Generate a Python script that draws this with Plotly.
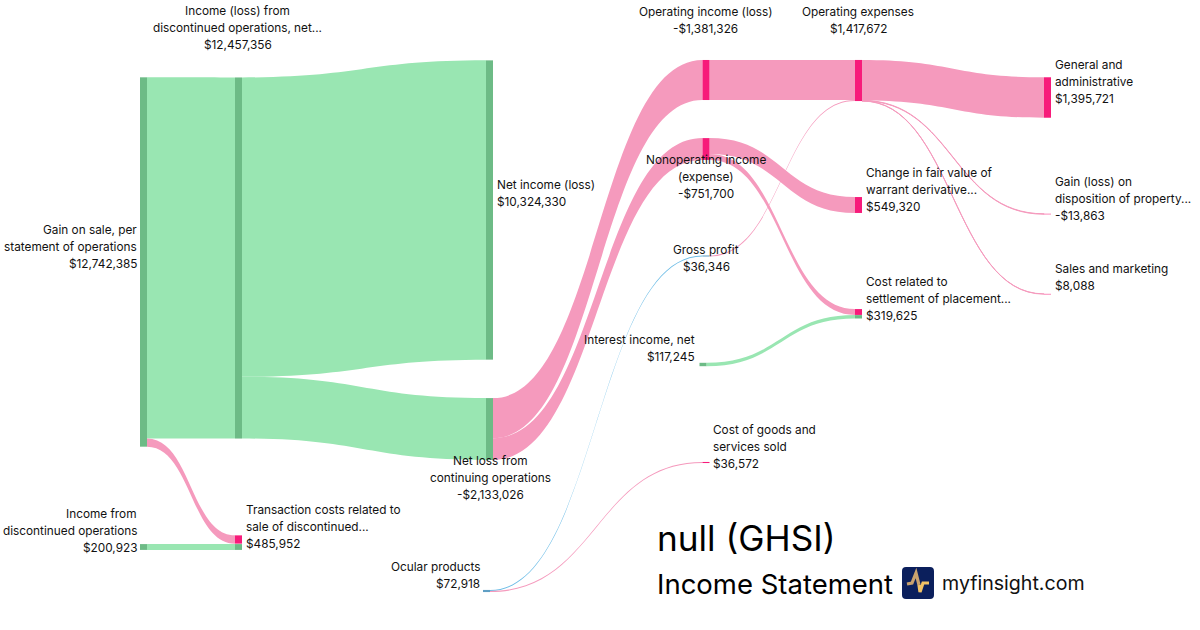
import plotly.graph_objects as go

names = ["Gain on sale, per<br>statement of operations", "Income from<br>discontinued operations",
         "Income (loss) from<br>discontinued operations, net...", "Transaction costs related to<br>sale of discontinued...",
         "", "Net income (loss)", "Net loss from<br>continuing operations", "Ocular products",
         "Operating income (loss)", "Nonoperating income<br>(expense)", "Gross profit", "Interest income, net",
         "Cost of goods and<br>services sold", "Operating expenses", "Change in fair value of<br>warrant derivative...",
         "Cost related to<br>settlement of placement...", "", "General and<br>administrative",
         "Gain (loss) on<br>disposition of property...", "Sales and marketing"]
shown_values = ["$12,742,385", "$200,923", "$12,457,356", "$485,952", "", "$10,324,330", "-$2,133,026", "$72,918",
                "-$1,381,326", "-$751,700", "$36,346", "$117,245", "$36,572", "$1,417,672", "$549,320", "$319,625", "",
                "$1,395,721", "-$13,863", "$8,088"]

link_source = [0, 0, 1, 2, 2, 6, 6, 8, 10, 13, 13, 13, 9, 9, 11, 7, 7]
link_target = [2, 3, 4, 5, 6, 8, 9, 13, 13, 17, 18, 19, 14, 15, 16, 10, 12]
link_value = [12457356, 285029, 200923, 10324330, 2133026, 1381326, 751700, 1381326, 36346,
              1395721, 13863, 8088, 549320, 202380, 117245, 36346, 36572]

GREEN_NODE, GREEN_LINK = "#6DBB86", "#99E6B2"
PINK_NODE, PINK_LINK = "#F71B7A", "#F59ABD"
BLUE_NODE, BLUE_LINK = "#5F9FC4", "#6CBCE6"
node_colors = [GREEN_NODE, GREEN_NODE, GREEN_NODE, PINK_NODE, GREEN_NODE, GREEN_NODE, GREEN_NODE, BLUE_NODE,
               PINK_NODE, PINK_NODE, BLUE_NODE, GREEN_NODE, PINK_NODE, PINK_NODE, PINK_NODE, PINK_NODE, GREEN_NODE,
               PINK_NODE, PINK_NODE, PINK_NODE]
link_colors = [GREEN_LINK, PINK_LINK, GREEN_LINK, GREEN_LINK, GREEN_LINK, PINK_LINK, PINK_LINK, PINK_LINK, PINK_LINK,
               PINK_LINK, PINK_LINK, PINK_LINK, PINK_LINK, PINK_LINK, GREEN_LINK, BLUE_LINK, PINK_LINK]

W, H = 1200, 630
# node centres in pixels
node_px = [(143.5, 262), (143.5, 547), (238.5, 258), (238.5, 539.5), (238.5, 547), (489.5, 210), (489.5, 429),
           (486.5, 591), (706, 80), (706, 149), (706, 256), (703, 364.5), (706, 462.5), (858.5, 80.5),
           (858.5, 205), (858.5, 312), (858.5, 316.8), (1047.5, 97.5), (1047.5, 214), (1047.5, 294)]

fig = go.Figure(go.Sankey(
    arrangement="fixed",
    domain=dict(x=[0, 1], y=[0, 1]),
    node=dict(label=[""] * len(names), color=node_colors, thickness=7, pad=27.7, line=dict(width=0),
              x=[p[0] / W for p in node_px], y=[p[1] / H for p in node_px], hoverinfo="none"),
    link=dict(source=link_source, target=link_target, value=link_value, color=link_colors, hoverinfo="none"),
))

# (node index, x px, y px of the middle of the first line, anchor)
label_px = [(0, 137.5, 230, "right"), (1, 137.5, 514, "right"), (2, 237.5, 11, "center"), (3, 244.8, 510, "left"),
            (5, 495.8, 185, "left"), (6, 490, 461, "center"), (7, 480.5, 567, "right"),
            (8, 705.5, 12, "center"), (9, 706, 160, "center"), (10, 706, 250, "center"), (11, 696, 340, "right"),
            (12, 711.8, 430, "left"), (13, 858, 12, "center"), (14, 864.8, 173, "left"), (15, 864.8, 282, "left"),
            (16, 0, 0, "left"), (17, 1053.8, 65, "left"), (18, 1053.8, 182, "left"), (19, 1053.8, 269, "left")]
LINE_STEP = 17
annotations = []
for i, x, y, anchor in label_px:
    if not names[i]:
        continue
    for k, line in enumerate(names[i].split("<br>") + [shown_values[i]]):
        annotations.append(dict(text=line, x=x / W, y=1 - (y + k * LINE_STEP) / H, xref="paper", yref="paper",
                                xanchor=anchor, yanchor="middle", align=anchor, showarrow=False, borderpad=0,
                                font=dict(family="Inter", size=11.8, color="#111111")))
annotations += [
    dict(text="null (GHSI)", x=655.6 / W, y=1 - 538 / H, xref="paper", yref="paper", xanchor="left", yanchor="middle",
         showarrow=False, borderpad=0, font=dict(family="Inter", size=35.2, color="#000000")),
    dict(text="Income Statement", x=655.6 / W, y=1 - 584 / H, xref="paper", yref="paper", xanchor="left", yanchor="middle",
         showarrow=False, borderpad=0, font=dict(family="Inter", size=27.5, color="#000000")),
    dict(text="myfinsight.com", x=940.6 / W, y=1 - 583 / H, xref="paper", yref="paper", xanchor="left", yanchor="middle",
         showarrow=False, borderpad=0, font=dict(family="Inter", size=19.6, color="#111111")),
]

def pt(x, y):
    return f"{x / W:.5f},{1 - y / H:.5f}"

def px_path(points):
    return "M " + " L ".join(pt(x, y) for x, y in points)

logo_box = ("M " + pt(906, 567) + " L " + pt(930, 567) + " Q " + pt(934, 567) + " " + pt(934, 571)
            + " L " + pt(934, 595) + " Q " + pt(934, 599) + " " + pt(930, 599)
            + " L " + pt(906, 599) + " Q " + pt(902, 599) + " " + pt(902, 595)
            + " L " + pt(902, 571) + " Q " + pt(902, 567) + " " + pt(906, 567) + " Z")
shapes = [
    dict(type="path", xref="paper", yref="paper", fillcolor="#0B1F5C", line=dict(width=0), path=logo_box),
    dict(type="path", xref="paper", yref="paper", line=dict(color="#C9A26E", width=3.2),
         path=px_path([(907, 584), (912, 583), (916, 573), (919, 585)])),
    dict(type="path", xref="paper", yref="paper", line=dict(color="#F2C265", width=3.2),
         path=px_path([(919, 585), (920, 592), (923, 583), (929, 583)])),
]

fig.update_layout(width=W, height=H, margin=dict(l=0, r=0, t=0, b=0), paper_bgcolor="white",
                  font=dict(family="Inter"), annotations=annotations, shapes=shapes)
fig.write_html("out.html", config={"displayModeBar": False}, post_script="document.body.style.margin='0';")
